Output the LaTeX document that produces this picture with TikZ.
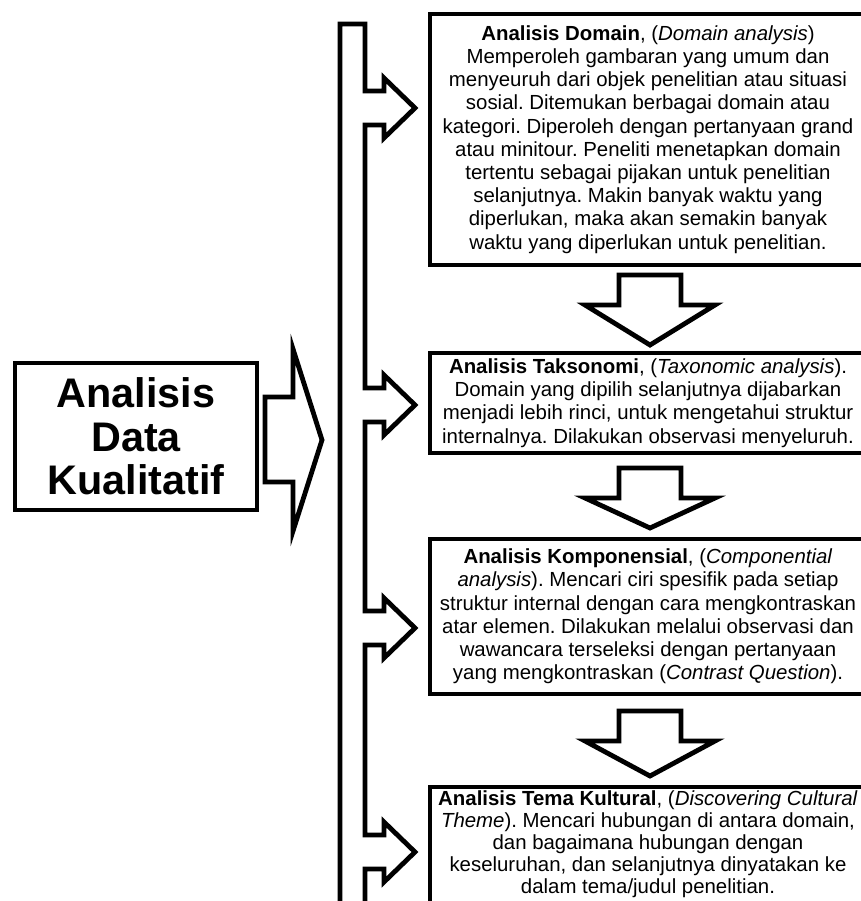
\documentclass[tikz,border=0pt]{standalone}
\usepackage{fontspec}
\setmainfont{Liberation Sans}
\usepackage{tikz}
\usetikzlibrary{positioning,calc}
\frenchspacing

% frame of an analysis box, running past the right (and, if asked, the bottom) edge
\newcommand{\bingkai}[2][0]{\draw[garis] (#2.north west) rectangle ($(#2.south east)+(30,#1)$);}

\begin{document}
\begin{tikzpicture}[
    x=0.75pt, y=-0.75pt,
    garis/.style={draw=black, line width=3.6pt, line join=miter},
    kotak/.style={rectangle, minimum width=327pt, inner sep=0pt, outer sep=0pt, align=center, font=\fontsize{15.3}{17.4}\selectfont},
    judul/.style={rectangle, garis, minimum width=181.5pt, minimum height=110.25pt, inner sep=0pt, outer sep=0pt, align=center, font=\fontsize{31}{32.5}\selectfont\bfseries},
    pics/blokturun/.style={code={
        \draw[garis] (-31,0) -- (31,0) -- (31,30) -- (65,30) -- (0,#1) -- (-65,30) -- (-31,30) -- cycle;
    }}
]
\useasboundingbox (0,0) rectangle (861,901);
\clip (0,0) rectangle (861,901);

% Main box - left
\node[judul] (adk) at (136,436.5) {Analisis\\Data\\Kualitatif};

% Analysis boxes - right column
\node[kotak, minimum height=188.25pt] (domain) at (648,139.5) {\textbf{Analisis Domain}, (\textit{Domain analysis})\\
Memperoleh gambaran yang umum dan\\
menyeuruh dari objek penelitian atau situasi\\
sosial. Ditemukan berbagai domain atau\\
kategori. Diperoleh dengan pertanyaan grand\\
atau minitour. Peneliti menetapkan domain\\
tertentu sebagai pijakan untuk penelitian\\
selanjutnya. Makin banyak waktu yang\\
diperlukan, maka akan semakin banyak\\
waktu yang diperlukan untuk penelitian.};
\node[kotak, minimum height=75pt, below=66pt of domain] (takso) {\textbf{Analisis Taksonomi}, (\textit{Taxonomic analysis}).\\
Domain yang dipilih selanjutnya dijabarkan\\
menjadi lebih rinci, untuk mengetahui struktur\\
internalnya. Dilakukan observasi menyeluruh.};
\node[kotak, minimum height=116.25pt, below=64.5pt of takso] (kompo) {\textbf{Analisis Komponensial}, (\textit{Componential}\\
\textit{analysis}). Mencari ciri spesifik pada setiap\\
struktur internal dengan cara mengkontraskan\\
atar elemen. Dilakukan melalui observasi dan\\
wawancara terseleksi dengan pertanyaan\\
yang mengkontraskan (\textit{Contrast Question}).};
\node[kotak, minimum height=86pt, font=\fontsize{15.3}{16.5}\selectfont, below=69.75pt of kompo] (tema) {\textbf{Analisis Tema Kultural}, (\textit{Discovering Cultural}\\
\textit{Theme}). Mencari hubungan di antara domain,\\
dan bagaimana hubungan dengan\\
keseluruhan, dan selanjutnya dinyatakan ke\\
dalam tema/judul penelitian.};

\bingkai{domain}
\bingkai{takso}
\bingkai{kompo}
\bingkai[15]{tema}

% Block arrows between boxes
\pic at ($(domain.south)+(2,10)$) {blokturun=70};
\pic at ($(takso.south)+(2,15)$) {blokturun=60};
\pic at ($(kompo.south)+(2,17)$) {blokturun=65};

% Big arrow from main box to spine
\draw[garis] (265,397) -- (293,397) -- (293,349) -- (322,440) -- (293,531) -- (293,482) -- (265,482) -- cycle;

% Spine with arrows to each box
\draw[garis] (340,915) -- (340,24) -- (365,24)
    \foreach \t in {108,405,628,852} {
        -- (365,\t-17) -- (384,\t-17) -- (384,\t-30) -- (415,\t) -- (384,\t+30) -- (384,\t+17) -- (365,\t+17)
    }
    -- (365,915);

\end{tikzpicture}
\end{document}
